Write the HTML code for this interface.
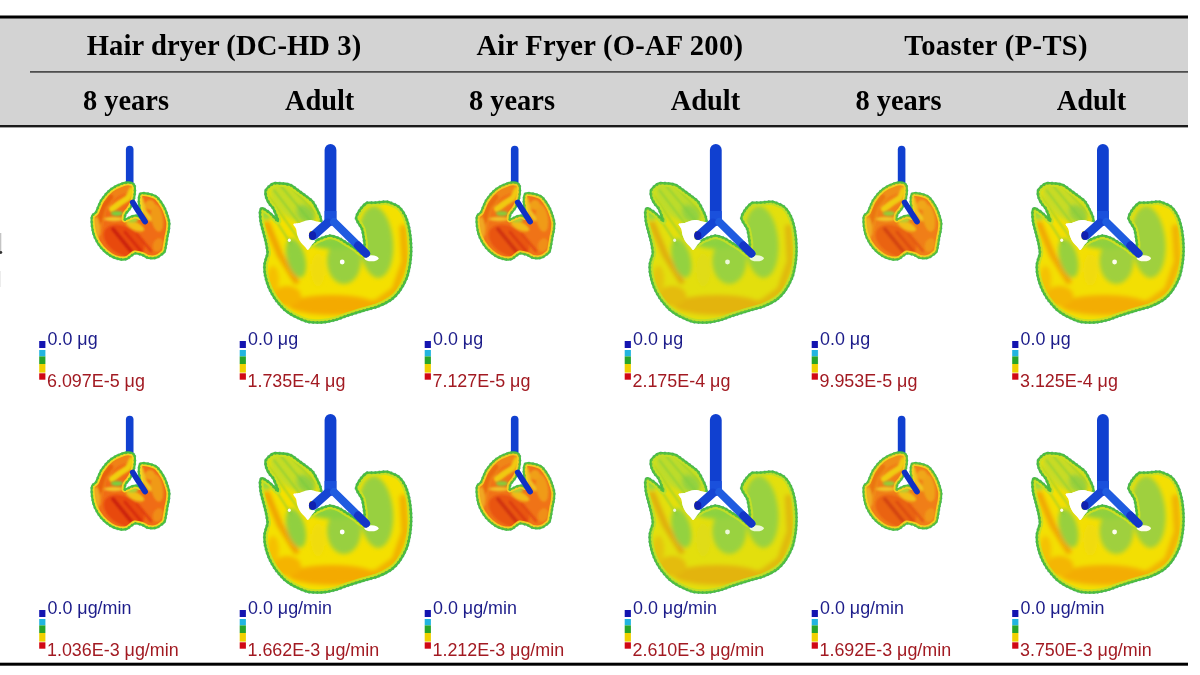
<!DOCTYPE html>
<html><head><meta charset="utf-8"><title>figure</title>
<style>
html,body{margin:0;padding:0;background:#fff;width:1200px;height:675px;overflow:hidden}
svg{position:absolute;left:0;top:0;display:block;will-change:transform}
</style></head><body>
<svg width="1200" height="675" viewBox="0 0 1200 675">
<defs>
<filter id="bl1" x="-30%" y="-30%" width="160%" height="160%"><feGaussianBlur stdDeviation="1.3"/></filter>
<filter id="bl2" x="-30%" y="-30%" width="160%" height="160%"><feGaussianBlur stdDeviation="2.3"/></filter>
<filter id="bl05" x="-10%" y="-10%" width="120%" height="120%"><feGaussianBlur stdDeviation="0.6"/></filter>
<filter id="bl08" x="-10%" y="-10%" width="120%" height="120%"><feGaussianBlur stdDeviation="1"/></filter>
<clipPath id="cclip"><path d="M4.9,39.8 C5.3,40.8 5.3,44.1 5.3,45.5 C5.3,46.9 4.8,50.5 4.5,52.0 C4.2,53.5 3.2,57.1 2.6,58.5 C2.0,59.9 -0.0,63.1 -0.8,64.2 C-1.6,65.3 -3.6,67.2 -4.1,68.3 C-4.6,69.4 -5.6,73.4 -4.9,73.7 C-4.2,74.0 0.3,71.3 1.6,70.8 C2.9,70.3 5.2,69.7 6.3,69.7 C7.4,69.7 10.4,71.9 10.8,71.2 C11.2,70.5 10.3,65.1 10.1,63.4 C9.9,61.7 9.2,58.2 9.1,56.7 C9.0,55.2 9.3,51.2 9.5,50.2 C9.7,49.1 10.3,48.0 10.9,47.7 C11.5,47.4 13.0,47.2 14.3,47.3 C15.6,47.4 20.4,48.3 22.0,48.8 C23.6,49.3 26.2,50.1 27.6,51.5 C29.0,52.9 33.1,58.8 34.3,60.9 C35.5,63.0 37.1,67.4 37.7,69.2 C38.3,71.0 39.4,74.9 39.6,76.6 C39.8,78.3 39.4,82.3 39.2,84.0 C39.0,85.7 38.1,89.5 37.7,91.4 C37.4,93.3 36.6,98.6 36.2,100.3 C35.9,102.0 35.7,104.9 34.7,106.2 C33.7,107.5 29.2,111.1 27.3,111.8 C25.4,112.5 20.1,112.5 18.4,112.2 C16.7,111.9 14.1,109.7 12.5,109.2 C10.9,108.7 6.8,107.3 5.1,107.7 C3.4,108.1 -0.6,112.2 -2.3,112.9 C-4.0,113.6 -7.8,113.9 -9.7,113.6 C-11.6,113.3 -16.8,111.5 -19.0,110.2 C-21.2,108.9 -26.5,104.4 -28.4,102.2 C-30.3,100.0 -33.9,94.0 -35.0,91.5 C-36.1,89.0 -37.4,83.4 -37.7,80.9 C-38.0,78.4 -38.2,71.9 -37.7,70.2 C-37.2,68.5 -34.8,68.1 -33.7,66.2 C-32.6,64.3 -30.1,56.8 -28.4,54.2 C-26.7,51.6 -21.5,45.4 -19.0,43.5 C-16.5,41.6 -9.4,38.3 -7.0,37.5 C-4.6,36.7 0.2,36.6 1.6,36.9 C3.0,37.2 4.5,38.8 4.9,39.8Z"/></clipPath>
<clipPath id="aclip"><path d="M-64.9,46.6 C-64.5,45.3 -62.1,42.9 -61.1,42.0 C-60.1,41.1 -57.6,39.5 -56.0,39.2 C-54.4,38.9 -49.6,39.3 -47.7,39.5 C-45.8,39.7 -41.8,40.1 -39.9,41.0 C-38.0,41.9 -32.9,45.9 -31.1,47.2 C-29.3,48.5 -26.0,50.9 -24.4,52.1 C-22.8,53.3 -19.0,56.1 -17.7,57.7 C-16.4,59.3 -14.2,63.6 -13.3,65.4 C-12.4,67.2 -10.3,71.6 -9.9,73.2 C-9.5,74.8 -9.0,77.3 -9.5,79.0 C-10.0,80.7 -13.3,85.9 -14.5,88.0 C-15.7,90.1 -18.7,95.4 -19.5,97.0 C-20.3,98.6 -21.9,101.9 -21.5,102.0 C-21.1,102.1 -17.8,98.9 -16.5,98.0 C-15.2,97.1 -11.9,95.2 -10.0,94.5 C-8.1,93.8 -2.7,91.6 -0.5,91.6 C1.7,91.6 7.2,93.6 9.2,94.5 C11.2,95.4 15.1,98.3 16.9,99.4 C18.7,100.5 22.8,103.0 24.6,104.2 C26.4,105.4 31.4,110.4 32.5,110.0 C33.6,109.6 33.9,102.8 34.0,101.0 C34.1,99.2 33.6,96.4 33.3,94.5 C33.0,92.6 32.3,87.3 31.4,84.9 C30.5,82.5 25.8,76.6 25.6,74.3 C25.4,72.0 28.3,67.4 29.5,65.6 C30.7,63.8 34.6,59.7 36.2,58.9 C37.8,58.1 40.6,58.8 43.0,58.7 C45.4,58.6 53.6,57.2 56.5,57.7 C59.4,58.2 65.9,60.9 68.1,62.6 C70.3,64.3 73.7,69.5 75.0,72.2 C76.3,74.9 78.3,82.1 79.0,85.7 C79.7,89.3 80.6,99.2 80.7,103.0 C80.8,106.8 80.3,114.8 79.8,118.4 C79.3,122.0 77.6,130.5 76.3,133.9 C75.0,137.3 70.9,144.7 69.0,147.3 C67.1,149.9 63.0,154.2 60.4,156.0 C57.8,157.8 50.0,161.6 46.9,162.8 C43.7,164.0 37.0,165.5 33.4,166.6 C29.8,167.7 19.4,170.9 16.1,172.0 C12.8,173.1 8.0,175.2 5.1,176.0 C2.2,176.8 -5.5,178.3 -8.7,178.5 C-11.9,178.7 -19.5,178.6 -22.6,177.9 C-25.7,177.2 -32.4,174.3 -35.2,172.8 C-38.0,171.3 -44.2,167.4 -46.5,165.3 C-48.8,163.2 -53.5,157.7 -55.3,155.2 C-57.1,152.7 -60.4,146.7 -61.6,143.9 C-62.8,141.1 -64.9,133.9 -65.4,131.3 C-65.9,128.7 -66.2,123.1 -66.1,121.2 C-66.0,119.3 -65.1,116.4 -64.7,115.0 C-64.3,113.6 -63.0,110.9 -63.0,109.0 C-63.0,107.1 -64.0,101.6 -64.5,99.0 C-65.0,96.4 -67.1,89.1 -67.7,86.6 C-68.3,84.1 -69.6,79.9 -69.9,77.7 C-70.2,75.5 -70.6,69.3 -70.5,67.7 C-70.4,66.1 -69.4,64.6 -68.8,64.3 C-68.2,64.0 -66.7,64.7 -65.5,65.4 C-64.3,66.1 -60.3,69.1 -58.8,70.5 C-57.3,71.9 -52.7,77.6 -52.5,77.0 C-52.3,76.4 -56.0,67.0 -57.0,65.0 C-58.0,63.0 -60.2,61.3 -61.1,59.9 C-62.0,58.5 -64.0,54.8 -64.4,53.2 C-64.8,51.6 -65.3,47.9 -64.9,46.6Z"/></clipPath>
<g id="child">
  <line x1="0" y1="3.8" x2="0" y2="42" stroke="#1040d0" stroke-width="7.6" stroke-linecap="round"/>
  <path d="M4.9,39.8 C5.3,40.8 5.3,44.1 5.3,45.5 C5.3,46.9 4.8,50.5 4.5,52.0 C4.2,53.5 3.2,57.1 2.6,58.5 C2.0,59.9 -0.0,63.1 -0.8,64.2 C-1.6,65.3 -3.6,67.2 -4.1,68.3 C-4.6,69.4 -5.6,73.4 -4.9,73.7 C-4.2,74.0 0.3,71.3 1.6,70.8 C2.9,70.3 5.2,69.7 6.3,69.7 C7.4,69.7 10.4,71.9 10.8,71.2 C11.2,70.5 10.3,65.1 10.1,63.4 C9.9,61.7 9.2,58.2 9.1,56.7 C9.0,55.2 9.3,51.2 9.5,50.2 C9.7,49.1 10.3,48.0 10.9,47.7 C11.5,47.4 13.0,47.2 14.3,47.3 C15.6,47.4 20.4,48.3 22.0,48.8 C23.6,49.3 26.2,50.1 27.6,51.5 C29.0,52.9 33.1,58.8 34.3,60.9 C35.5,63.0 37.1,67.4 37.7,69.2 C38.3,71.0 39.4,74.9 39.6,76.6 C39.8,78.3 39.4,82.3 39.2,84.0 C39.0,85.7 38.1,89.5 37.7,91.4 C37.4,93.3 36.6,98.6 36.2,100.3 C35.9,102.0 35.7,104.9 34.7,106.2 C33.7,107.5 29.2,111.1 27.3,111.8 C25.4,112.5 20.1,112.5 18.4,112.2 C16.7,111.9 14.1,109.7 12.5,109.2 C10.9,108.7 6.8,107.3 5.1,107.7 C3.4,108.1 -0.6,112.2 -2.3,112.9 C-4.0,113.6 -7.8,113.9 -9.7,113.6 C-11.6,113.3 -16.8,111.5 -19.0,110.2 C-21.2,108.9 -26.5,104.4 -28.4,102.2 C-30.3,100.0 -33.9,94.0 -35.0,91.5 C-36.1,89.0 -37.4,83.4 -37.7,80.9 C-38.0,78.4 -38.2,71.9 -37.7,70.2 C-37.2,68.5 -34.8,68.1 -33.7,66.2 C-32.6,64.3 -30.1,56.8 -28.4,54.2 C-26.7,51.6 -21.5,45.4 -19.0,43.5 C-16.5,41.6 -9.4,38.3 -7.0,37.5 C-4.6,36.7 0.2,36.6 1.6,36.9 C3.0,37.2 4.5,38.8 4.9,39.8Z" fill="#f06c16"/>
  <g clip-path="url(#cclip)">
    <g filter="url(#bl1)"><ellipse cx="-5.7" cy="95.2" rx="22" ry="14" fill="#e84a10" transform="rotate(30 -5.7 95.2)"/>
<path d="M-32.7,86.2 L-27.7,61.2 L-15.7,47.2 L-1.7,41.2" fill="none" stroke="#f08218" stroke-width="9" stroke-linecap="round" stroke-linejoin="round"/>
<path d="M-30.7,76.2 L-26.7,61.2 L-18.7,51.2" fill="none" stroke="#e86010" stroke-width="5" stroke-linecap="round" stroke-linejoin="round"/>
<path d="M-17.7,63.2 L-9.7,57.2 L-1.7,52.2 L2.3,44.2" fill="none" stroke="#f0d010" stroke-width="6" stroke-linecap="round" stroke-linejoin="round"/>
<ellipse cx="-15.7" cy="73.2" rx="10" ry="2.2" fill="#f0c428"/>
<ellipse cx="-33.7" cy="83.2" rx="4" ry="12" fill="#f0a820"/>
<path d="M-16.7,83.2 L1.3,105.2" fill="none" stroke="#cc2010" stroke-width="4" stroke-linecap="round" stroke-linejoin="round"/>
<path d="M-4.7,86.2 L11.3,105.2" fill="none" stroke="#d82c10" stroke-width="3" stroke-linecap="round" stroke-linejoin="round"/>
<path d="M7.3,88.2 L21.3,105.2" fill="none" stroke="#e03a10" stroke-width="2.5" stroke-linecap="round" stroke-linejoin="round"/>
<path d="M11.3,53.2 L14.3,65.2 L20.3,73.2" fill="none" stroke="#f0c820" stroke-width="4.5" stroke-linecap="round" stroke-linejoin="round"/>
<ellipse cx="27.3" cy="72.2" rx="6" ry="14" fill="#f09a18" transform="rotate(-10 27.3 72.2)"/>
<ellipse cx="20.3" cy="59.2" rx="5" ry="5" fill="#f0a018"/>
<ellipse cx="5.3" cy="80.2" rx="10" ry="4" fill="#f0c018" transform="rotate(25 5.3 80.2)"/>
<ellipse cx="28.3" cy="99.2" rx="5" ry="7" fill="#f08c18" transform="rotate(20 28.3 99.2)"/></g>
    <g filter="url(#bl08)"><ellipse cx="-12.7" cy="67.7" rx="6" ry="2.6" fill="#78d040"/>
<ellipse cx="2.3" cy="74.2" rx="6" ry="2.5" fill="#a8d838"/></g>
    <path d="M4.9,39.8 C5.3,40.8 5.3,44.1 5.3,45.5 C5.3,46.9 4.8,50.5 4.5,52.0 C4.2,53.5 3.2,57.1 2.6,58.5 C2.0,59.9 -0.0,63.1 -0.8,64.2 C-1.6,65.3 -3.6,67.2 -4.1,68.3 C-4.6,69.4 -5.6,73.4 -4.9,73.7 C-4.2,74.0 0.3,71.3 1.6,70.8 C2.9,70.3 5.2,69.7 6.3,69.7 C7.4,69.7 10.4,71.9 10.8,71.2 C11.2,70.5 10.3,65.1 10.1,63.4 C9.9,61.7 9.2,58.2 9.1,56.7 C9.0,55.2 9.3,51.2 9.5,50.2 C9.7,49.1 10.3,48.0 10.9,47.7 C11.5,47.4 13.0,47.2 14.3,47.3 C15.6,47.4 20.4,48.3 22.0,48.8 C23.6,49.3 26.2,50.1 27.6,51.5 C29.0,52.9 33.1,58.8 34.3,60.9 C35.5,63.0 37.1,67.4 37.7,69.2 C38.3,71.0 39.4,74.9 39.6,76.6 C39.8,78.3 39.4,82.3 39.2,84.0 C39.0,85.7 38.1,89.5 37.7,91.4 C37.4,93.3 36.6,98.6 36.2,100.3 C35.9,102.0 35.7,104.9 34.7,106.2 C33.7,107.5 29.2,111.1 27.3,111.8 C25.4,112.5 20.1,112.5 18.4,112.2 C16.7,111.9 14.1,109.7 12.5,109.2 C10.9,108.7 6.8,107.3 5.1,107.7 C3.4,108.1 -0.6,112.2 -2.3,112.9 C-4.0,113.6 -7.8,113.9 -9.7,113.6 C-11.6,113.3 -16.8,111.5 -19.0,110.2 C-21.2,108.9 -26.5,104.4 -28.4,102.2 C-30.3,100.0 -33.9,94.0 -35.0,91.5 C-36.1,89.0 -37.4,83.4 -37.7,80.9 C-38.0,78.4 -38.2,71.9 -37.7,70.2 C-37.2,68.5 -34.8,68.1 -33.7,66.2 C-32.6,64.3 -30.1,56.8 -28.4,54.2 C-26.7,51.6 -21.5,45.4 -19.0,43.5 C-16.5,41.6 -9.4,38.3 -7.0,37.5 C-4.6,36.7 0.2,36.6 1.6,36.9 C3.0,37.2 4.5,38.8 4.9,39.8Z" fill="none" stroke="#f0d820" stroke-width="6" filter="url(#bl05)"/>
  </g>
  <path d="M4.9,39.8 C5.3,40.8 5.3,44.1 5.3,45.5 C5.3,46.9 4.8,50.5 4.5,52.0 C4.2,53.5 3.2,57.1 2.6,58.5 C2.0,59.9 -0.0,63.1 -0.8,64.2 C-1.6,65.3 -3.6,67.2 -4.1,68.3 C-4.6,69.4 -5.6,73.4 -4.9,73.7 C-4.2,74.0 0.3,71.3 1.6,70.8 C2.9,70.3 5.2,69.7 6.3,69.7 C7.4,69.7 10.4,71.9 10.8,71.2 C11.2,70.5 10.3,65.1 10.1,63.4 C9.9,61.7 9.2,58.2 9.1,56.7 C9.0,55.2 9.3,51.2 9.5,50.2 C9.7,49.1 10.3,48.0 10.9,47.7 C11.5,47.4 13.0,47.2 14.3,47.3 C15.6,47.4 20.4,48.3 22.0,48.8 C23.6,49.3 26.2,50.1 27.6,51.5 C29.0,52.9 33.1,58.8 34.3,60.9 C35.5,63.0 37.1,67.4 37.7,69.2 C38.3,71.0 39.4,74.9 39.6,76.6 C39.8,78.3 39.4,82.3 39.2,84.0 C39.0,85.7 38.1,89.5 37.7,91.4 C37.4,93.3 36.6,98.6 36.2,100.3 C35.9,102.0 35.7,104.9 34.7,106.2 C33.7,107.5 29.2,111.1 27.3,111.8 C25.4,112.5 20.1,112.5 18.4,112.2 C16.7,111.9 14.1,109.7 12.5,109.2 C10.9,108.7 6.8,107.3 5.1,107.7 C3.4,108.1 -0.6,112.2 -2.3,112.9 C-4.0,113.6 -7.8,113.9 -9.7,113.6 C-11.6,113.3 -16.8,111.5 -19.0,110.2 C-21.2,108.9 -26.5,104.4 -28.4,102.2 C-30.3,100.0 -33.9,94.0 -35.0,91.5 C-36.1,89.0 -37.4,83.4 -37.7,80.9 C-38.0,78.4 -38.2,71.9 -37.7,70.2 C-37.2,68.5 -34.8,68.1 -33.7,66.2 C-32.6,64.3 -30.1,56.8 -28.4,54.2 C-26.7,51.6 -21.5,45.4 -19.0,43.5 C-16.5,41.6 -9.4,38.3 -7.0,37.5 C-4.6,36.7 0.2,36.6 1.6,36.9 C3.0,37.2 4.5,38.8 4.9,39.8Z" fill="none" stroke="#1a6e70" stroke-width="2.8" stroke-dasharray="1.5 2.5" opacity="0.55"/>
  <path d="M4.9,39.8 C5.3,40.8 5.3,44.1 5.3,45.5 C5.3,46.9 4.8,50.5 4.5,52.0 C4.2,53.5 3.2,57.1 2.6,58.5 C2.0,59.9 -0.0,63.1 -0.8,64.2 C-1.6,65.3 -3.6,67.2 -4.1,68.3 C-4.6,69.4 -5.6,73.4 -4.9,73.7 C-4.2,74.0 0.3,71.3 1.6,70.8 C2.9,70.3 5.2,69.7 6.3,69.7 C7.4,69.7 10.4,71.9 10.8,71.2 C11.2,70.5 10.3,65.1 10.1,63.4 C9.9,61.7 9.2,58.2 9.1,56.7 C9.0,55.2 9.3,51.2 9.5,50.2 C9.7,49.1 10.3,48.0 10.9,47.7 C11.5,47.4 13.0,47.2 14.3,47.3 C15.6,47.4 20.4,48.3 22.0,48.8 C23.6,49.3 26.2,50.1 27.6,51.5 C29.0,52.9 33.1,58.8 34.3,60.9 C35.5,63.0 37.1,67.4 37.7,69.2 C38.3,71.0 39.4,74.9 39.6,76.6 C39.8,78.3 39.4,82.3 39.2,84.0 C39.0,85.7 38.1,89.5 37.7,91.4 C37.4,93.3 36.6,98.6 36.2,100.3 C35.9,102.0 35.7,104.9 34.7,106.2 C33.7,107.5 29.2,111.1 27.3,111.8 C25.4,112.5 20.1,112.5 18.4,112.2 C16.7,111.9 14.1,109.7 12.5,109.2 C10.9,108.7 6.8,107.3 5.1,107.7 C3.4,108.1 -0.6,112.2 -2.3,112.9 C-4.0,113.6 -7.8,113.9 -9.7,113.6 C-11.6,113.3 -16.8,111.5 -19.0,110.2 C-21.2,108.9 -26.5,104.4 -28.4,102.2 C-30.3,100.0 -33.9,94.0 -35.0,91.5 C-36.1,89.0 -37.4,83.4 -37.7,80.9 C-38.0,78.4 -38.2,71.9 -37.7,70.2 C-37.2,68.5 -34.8,68.1 -33.7,66.2 C-32.6,64.3 -30.1,56.8 -28.4,54.2 C-26.7,51.6 -21.5,45.4 -19.0,43.5 C-16.5,41.6 -9.4,38.3 -7.0,37.5 C-4.6,36.7 0.2,36.6 1.6,36.9 C3.0,37.2 4.5,38.8 4.9,39.8Z" fill="none" stroke="#48c040" stroke-width="2.1"/>
</g>
<g id="child_air">
  <path d="M3.1,56.7 L15.3,75.7" fill="none" stroke="#1030c4" stroke-width="5.8" stroke-linecap="round" stroke-linejoin="round"/>
</g>
<g id="adult">
  <path d="M-64.9,46.6 C-64.5,45.3 -62.1,42.9 -61.1,42.0 C-60.1,41.1 -57.6,39.5 -56.0,39.2 C-54.4,38.9 -49.6,39.3 -47.7,39.5 C-45.8,39.7 -41.8,40.1 -39.9,41.0 C-38.0,41.9 -32.9,45.9 -31.1,47.2 C-29.3,48.5 -26.0,50.9 -24.4,52.1 C-22.8,53.3 -19.0,56.1 -17.7,57.7 C-16.4,59.3 -14.2,63.6 -13.3,65.4 C-12.4,67.2 -10.3,71.6 -9.9,73.2 C-9.5,74.8 -9.0,77.3 -9.5,79.0 C-10.0,80.7 -13.3,85.9 -14.5,88.0 C-15.7,90.1 -18.7,95.4 -19.5,97.0 C-20.3,98.6 -21.9,101.9 -21.5,102.0 C-21.1,102.1 -17.8,98.9 -16.5,98.0 C-15.2,97.1 -11.9,95.2 -10.0,94.5 C-8.1,93.8 -2.7,91.6 -0.5,91.6 C1.7,91.6 7.2,93.6 9.2,94.5 C11.2,95.4 15.1,98.3 16.9,99.4 C18.7,100.5 22.8,103.0 24.6,104.2 C26.4,105.4 31.4,110.4 32.5,110.0 C33.6,109.6 33.9,102.8 34.0,101.0 C34.1,99.2 33.6,96.4 33.3,94.5 C33.0,92.6 32.3,87.3 31.4,84.9 C30.5,82.5 25.8,76.6 25.6,74.3 C25.4,72.0 28.3,67.4 29.5,65.6 C30.7,63.8 34.6,59.7 36.2,58.9 C37.8,58.1 40.6,58.8 43.0,58.7 C45.4,58.6 53.6,57.2 56.5,57.7 C59.4,58.2 65.9,60.9 68.1,62.6 C70.3,64.3 73.7,69.5 75.0,72.2 C76.3,74.9 78.3,82.1 79.0,85.7 C79.7,89.3 80.6,99.2 80.7,103.0 C80.8,106.8 80.3,114.8 79.8,118.4 C79.3,122.0 77.6,130.5 76.3,133.9 C75.0,137.3 70.9,144.7 69.0,147.3 C67.1,149.9 63.0,154.2 60.4,156.0 C57.8,157.8 50.0,161.6 46.9,162.8 C43.7,164.0 37.0,165.5 33.4,166.6 C29.8,167.7 19.4,170.9 16.1,172.0 C12.8,173.1 8.0,175.2 5.1,176.0 C2.2,176.8 -5.5,178.3 -8.7,178.5 C-11.9,178.7 -19.5,178.6 -22.6,177.9 C-25.7,177.2 -32.4,174.3 -35.2,172.8 C-38.0,171.3 -44.2,167.4 -46.5,165.3 C-48.8,163.2 -53.5,157.7 -55.3,155.2 C-57.1,152.7 -60.4,146.7 -61.6,143.9 C-62.8,141.1 -64.9,133.9 -65.4,131.3 C-65.9,128.7 -66.2,123.1 -66.1,121.2 C-66.0,119.3 -65.1,116.4 -64.7,115.0 C-64.3,113.6 -63.0,110.9 -63.0,109.0 C-63.0,107.1 -64.0,101.6 -64.5,99.0 C-65.0,96.4 -67.1,89.1 -67.7,86.6 C-68.3,84.1 -69.6,79.9 -69.9,77.7 C-70.2,75.5 -70.6,69.3 -70.5,67.7 C-70.4,66.1 -69.4,64.6 -68.8,64.3 C-68.2,64.0 -66.7,64.7 -65.5,65.4 C-64.3,66.1 -60.3,69.1 -58.8,70.5 C-57.3,71.9 -52.7,77.6 -52.5,77.0 C-52.3,76.4 -56.0,67.0 -57.0,65.0 C-58.0,63.0 -60.2,61.3 -61.1,59.9 C-62.0,58.5 -64.0,54.8 -64.4,53.2 C-64.8,51.6 -65.3,47.9 -64.9,46.6Z" fill="#f4e000"/>
  <g clip-path="url(#aclip)">
    <g filter="url(#bl2)"><ellipse cx="-40.5" cy="59.0" rx="25" ry="13" fill="#c4dc28" transform="rotate(42 -40.5 59.0)"/>
<ellipse cx="-24.5" cy="70.0" rx="11" ry="8" fill="#90d040" transform="rotate(45 -24.5 70.0)"/>
<ellipse cx="-64.5" cy="70.0" rx="6" ry="6" fill="#98d840"/>
<path d="M-63.5,80.0 L-50.5,111.0 L-34.5,137.0" fill="none" stroke="#f0a000" stroke-width="6" stroke-linecap="round" stroke-linejoin="round"/>
<ellipse cx="-34.5" cy="114.0" rx="9" ry="20" fill="#90d040" transform="rotate(-15 -34.5 114.0)"/>
<ellipse cx="13.5" cy="117.0" rx="17" ry="23" fill="#98d040"/>
<ellipse cx="-12.5" cy="126.0" rx="7" ry="16" fill="#f0dc10"/>
<ellipse cx="2.5" cy="99.0" rx="22" ry="6" fill="#88d040"/>
<ellipse cx="45.5" cy="98.0" rx="17" ry="36" fill="#98d040" transform="rotate(-5 45.5 98.0)"/>
<path d="M72.5,84.0 L74.5,118.0 L64.5,146.0 L47.5,158.0 L27.5,165.0" fill="none" stroke="#f0b000" stroke-width="7" stroke-linecap="round" stroke-linejoin="round"/>
<ellipse cx="1.5" cy="161.0" rx="44" ry="10" fill="#f4aa00"/>
<ellipse cx="-43.5" cy="152.0" rx="14" ry="10" fill="#f5b400"/>
<ellipse cx="-57.5" cy="136.0" rx="6" ry="14" fill="#f5c000"/></g>
    <g filter="url(#bl08)"><path d="M-62.5,52.0 L-32.5,94.0" fill="none" stroke="#70c840" stroke-width="1.4" stroke-linecap="round" stroke-linejoin="round" opacity="0.7"/>
<path d="M-56.5,46.0 L-24.5,88.0" fill="none" stroke="#70c840" stroke-width="1.4" stroke-linecap="round" stroke-linejoin="round" opacity="0.7"/>
<path d="M-49.5,42.0 L-17.5,80.0" fill="none" stroke="#70c840" stroke-width="1.4" stroke-linecap="round" stroke-linejoin="round" opacity="0.7"/>
<path d="M-40.5,42.0 L-12.5,71.0" fill="none" stroke="#70c840" stroke-width="1.4" stroke-linecap="round" stroke-linejoin="round" opacity="0.7"/>
<path d="M-64.5,61.0 L-39.5,100.0" fill="none" stroke="#70c840" stroke-width="1.4" stroke-linecap="round" stroke-linejoin="round" opacity="0.7"/></g>
    <path d="M-64.9,46.6 C-64.5,45.3 -62.1,42.9 -61.1,42.0 C-60.1,41.1 -57.6,39.5 -56.0,39.2 C-54.4,38.9 -49.6,39.3 -47.7,39.5 C-45.8,39.7 -41.8,40.1 -39.9,41.0 C-38.0,41.9 -32.9,45.9 -31.1,47.2 C-29.3,48.5 -26.0,50.9 -24.4,52.1 C-22.8,53.3 -19.0,56.1 -17.7,57.7 C-16.4,59.3 -14.2,63.6 -13.3,65.4 C-12.4,67.2 -10.3,71.6 -9.9,73.2 C-9.5,74.8 -9.0,77.3 -9.5,79.0 C-10.0,80.7 -13.3,85.9 -14.5,88.0 C-15.7,90.1 -18.7,95.4 -19.5,97.0 C-20.3,98.6 -21.9,101.9 -21.5,102.0 C-21.1,102.1 -17.8,98.9 -16.5,98.0 C-15.2,97.1 -11.9,95.2 -10.0,94.5 C-8.1,93.8 -2.7,91.6 -0.5,91.6 C1.7,91.6 7.2,93.6 9.2,94.5 C11.2,95.4 15.1,98.3 16.9,99.4 C18.7,100.5 22.8,103.0 24.6,104.2 C26.4,105.4 31.4,110.4 32.5,110.0 C33.6,109.6 33.9,102.8 34.0,101.0 C34.1,99.2 33.6,96.4 33.3,94.5 C33.0,92.6 32.3,87.3 31.4,84.9 C30.5,82.5 25.8,76.6 25.6,74.3 C25.4,72.0 28.3,67.4 29.5,65.6 C30.7,63.8 34.6,59.7 36.2,58.9 C37.8,58.1 40.6,58.8 43.0,58.7 C45.4,58.6 53.6,57.2 56.5,57.7 C59.4,58.2 65.9,60.9 68.1,62.6 C70.3,64.3 73.7,69.5 75.0,72.2 C76.3,74.9 78.3,82.1 79.0,85.7 C79.7,89.3 80.6,99.2 80.7,103.0 C80.8,106.8 80.3,114.8 79.8,118.4 C79.3,122.0 77.6,130.5 76.3,133.9 C75.0,137.3 70.9,144.7 69.0,147.3 C67.1,149.9 63.0,154.2 60.4,156.0 C57.8,157.8 50.0,161.6 46.9,162.8 C43.7,164.0 37.0,165.5 33.4,166.6 C29.8,167.7 19.4,170.9 16.1,172.0 C12.8,173.1 8.0,175.2 5.1,176.0 C2.2,176.8 -5.5,178.3 -8.7,178.5 C-11.9,178.7 -19.5,178.6 -22.6,177.9 C-25.7,177.2 -32.4,174.3 -35.2,172.8 C-38.0,171.3 -44.2,167.4 -46.5,165.3 C-48.8,163.2 -53.5,157.7 -55.3,155.2 C-57.1,152.7 -60.4,146.7 -61.6,143.9 C-62.8,141.1 -64.9,133.9 -65.4,131.3 C-65.9,128.7 -66.2,123.1 -66.1,121.2 C-66.0,119.3 -65.1,116.4 -64.7,115.0 C-64.3,113.6 -63.0,110.9 -63.0,109.0 C-63.0,107.1 -64.0,101.6 -64.5,99.0 C-65.0,96.4 -67.1,89.1 -67.7,86.6 C-68.3,84.1 -69.6,79.9 -69.9,77.7 C-70.2,75.5 -70.6,69.3 -70.5,67.7 C-70.4,66.1 -69.4,64.6 -68.8,64.3 C-68.2,64.0 -66.7,64.7 -65.5,65.4 C-64.3,66.1 -60.3,69.1 -58.8,70.5 C-57.3,71.9 -52.7,77.6 -52.5,77.0 C-52.3,76.4 -56.0,67.0 -57.0,65.0 C-58.0,63.0 -60.2,61.3 -61.1,59.9 C-62.0,58.5 -64.0,54.8 -64.4,53.2 C-64.8,51.6 -65.3,47.9 -64.9,46.6Z" fill="none" stroke="#c8e020" stroke-width="7" filter="url(#bl05)"/>
  </g>
  <path d="M-64.9,46.6 C-64.5,45.3 -62.1,42.9 -61.1,42.0 C-60.1,41.1 -57.6,39.5 -56.0,39.2 C-54.4,38.9 -49.6,39.3 -47.7,39.5 C-45.8,39.7 -41.8,40.1 -39.9,41.0 C-38.0,41.9 -32.9,45.9 -31.1,47.2 C-29.3,48.5 -26.0,50.9 -24.4,52.1 C-22.8,53.3 -19.0,56.1 -17.7,57.7 C-16.4,59.3 -14.2,63.6 -13.3,65.4 C-12.4,67.2 -10.3,71.6 -9.9,73.2 C-9.5,74.8 -9.0,77.3 -9.5,79.0 C-10.0,80.7 -13.3,85.9 -14.5,88.0 C-15.7,90.1 -18.7,95.4 -19.5,97.0 C-20.3,98.6 -21.9,101.9 -21.5,102.0 C-21.1,102.1 -17.8,98.9 -16.5,98.0 C-15.2,97.1 -11.9,95.2 -10.0,94.5 C-8.1,93.8 -2.7,91.6 -0.5,91.6 C1.7,91.6 7.2,93.6 9.2,94.5 C11.2,95.4 15.1,98.3 16.9,99.4 C18.7,100.5 22.8,103.0 24.6,104.2 C26.4,105.4 31.4,110.4 32.5,110.0 C33.6,109.6 33.9,102.8 34.0,101.0 C34.1,99.2 33.6,96.4 33.3,94.5 C33.0,92.6 32.3,87.3 31.4,84.9 C30.5,82.5 25.8,76.6 25.6,74.3 C25.4,72.0 28.3,67.4 29.5,65.6 C30.7,63.8 34.6,59.7 36.2,58.9 C37.8,58.1 40.6,58.8 43.0,58.7 C45.4,58.6 53.6,57.2 56.5,57.7 C59.4,58.2 65.9,60.9 68.1,62.6 C70.3,64.3 73.7,69.5 75.0,72.2 C76.3,74.9 78.3,82.1 79.0,85.7 C79.7,89.3 80.6,99.2 80.7,103.0 C80.8,106.8 80.3,114.8 79.8,118.4 C79.3,122.0 77.6,130.5 76.3,133.9 C75.0,137.3 70.9,144.7 69.0,147.3 C67.1,149.9 63.0,154.2 60.4,156.0 C57.8,157.8 50.0,161.6 46.9,162.8 C43.7,164.0 37.0,165.5 33.4,166.6 C29.8,167.7 19.4,170.9 16.1,172.0 C12.8,173.1 8.0,175.2 5.1,176.0 C2.2,176.8 -5.5,178.3 -8.7,178.5 C-11.9,178.7 -19.5,178.6 -22.6,177.9 C-25.7,177.2 -32.4,174.3 -35.2,172.8 C-38.0,171.3 -44.2,167.4 -46.5,165.3 C-48.8,163.2 -53.5,157.7 -55.3,155.2 C-57.1,152.7 -60.4,146.7 -61.6,143.9 C-62.8,141.1 -64.9,133.9 -65.4,131.3 C-65.9,128.7 -66.2,123.1 -66.1,121.2 C-66.0,119.3 -65.1,116.4 -64.7,115.0 C-64.3,113.6 -63.0,110.9 -63.0,109.0 C-63.0,107.1 -64.0,101.6 -64.5,99.0 C-65.0,96.4 -67.1,89.1 -67.7,86.6 C-68.3,84.1 -69.6,79.9 -69.9,77.7 C-70.2,75.5 -70.6,69.3 -70.5,67.7 C-70.4,66.1 -69.4,64.6 -68.8,64.3 C-68.2,64.0 -66.7,64.7 -65.5,65.4 C-64.3,66.1 -60.3,69.1 -58.8,70.5 C-57.3,71.9 -52.7,77.6 -52.5,77.0 C-52.3,76.4 -56.0,67.0 -57.0,65.0 C-58.0,63.0 -60.2,61.3 -61.1,59.9 C-62.0,58.5 -64.0,54.8 -64.4,53.2 C-64.8,51.6 -65.3,47.9 -64.9,46.6Z" fill="none" stroke="#1a6e70" stroke-width="3" stroke-dasharray="1.6 2.4" opacity="0.6"/>
  <path d="M-64.9,46.6 C-64.5,45.3 -62.1,42.9 -61.1,42.0 C-60.1,41.1 -57.6,39.5 -56.0,39.2 C-54.4,38.9 -49.6,39.3 -47.7,39.5 C-45.8,39.7 -41.8,40.1 -39.9,41.0 C-38.0,41.9 -32.9,45.9 -31.1,47.2 C-29.3,48.5 -26.0,50.9 -24.4,52.1 C-22.8,53.3 -19.0,56.1 -17.7,57.7 C-16.4,59.3 -14.2,63.6 -13.3,65.4 C-12.4,67.2 -10.3,71.6 -9.9,73.2 C-9.5,74.8 -9.0,77.3 -9.5,79.0 C-10.0,80.7 -13.3,85.9 -14.5,88.0 C-15.7,90.1 -18.7,95.4 -19.5,97.0 C-20.3,98.6 -21.9,101.9 -21.5,102.0 C-21.1,102.1 -17.8,98.9 -16.5,98.0 C-15.2,97.1 -11.9,95.2 -10.0,94.5 C-8.1,93.8 -2.7,91.6 -0.5,91.6 C1.7,91.6 7.2,93.6 9.2,94.5 C11.2,95.4 15.1,98.3 16.9,99.4 C18.7,100.5 22.8,103.0 24.6,104.2 C26.4,105.4 31.4,110.4 32.5,110.0 C33.6,109.6 33.9,102.8 34.0,101.0 C34.1,99.2 33.6,96.4 33.3,94.5 C33.0,92.6 32.3,87.3 31.4,84.9 C30.5,82.5 25.8,76.6 25.6,74.3 C25.4,72.0 28.3,67.4 29.5,65.6 C30.7,63.8 34.6,59.7 36.2,58.9 C37.8,58.1 40.6,58.8 43.0,58.7 C45.4,58.6 53.6,57.2 56.5,57.7 C59.4,58.2 65.9,60.9 68.1,62.6 C70.3,64.3 73.7,69.5 75.0,72.2 C76.3,74.9 78.3,82.1 79.0,85.7 C79.7,89.3 80.6,99.2 80.7,103.0 C80.8,106.8 80.3,114.8 79.8,118.4 C79.3,122.0 77.6,130.5 76.3,133.9 C75.0,137.3 70.9,144.7 69.0,147.3 C67.1,149.9 63.0,154.2 60.4,156.0 C57.8,157.8 50.0,161.6 46.9,162.8 C43.7,164.0 37.0,165.5 33.4,166.6 C29.8,167.7 19.4,170.9 16.1,172.0 C12.8,173.1 8.0,175.2 5.1,176.0 C2.2,176.8 -5.5,178.3 -8.7,178.5 C-11.9,178.7 -19.5,178.6 -22.6,177.9 C-25.7,177.2 -32.4,174.3 -35.2,172.8 C-38.0,171.3 -44.2,167.4 -46.5,165.3 C-48.8,163.2 -53.5,157.7 -55.3,155.2 C-57.1,152.7 -60.4,146.7 -61.6,143.9 C-62.8,141.1 -64.9,133.9 -65.4,131.3 C-65.9,128.7 -66.2,123.1 -66.1,121.2 C-66.0,119.3 -65.1,116.4 -64.7,115.0 C-64.3,113.6 -63.0,110.9 -63.0,109.0 C-63.0,107.1 -64.0,101.6 -64.5,99.0 C-65.0,96.4 -67.1,89.1 -67.7,86.6 C-68.3,84.1 -69.6,79.9 -69.9,77.7 C-70.2,75.5 -70.6,69.3 -70.5,67.7 C-70.4,66.1 -69.4,64.6 -68.8,64.3 C-68.2,64.0 -66.7,64.7 -65.5,65.4 C-64.3,66.1 -60.3,69.1 -58.8,70.5 C-57.3,71.9 -52.7,77.6 -52.5,77.0 C-52.3,76.4 -56.0,67.0 -57.0,65.0 C-58.0,63.0 -60.2,61.3 -61.1,59.9 C-62.0,58.5 -64.0,54.8 -64.4,53.2 C-64.8,51.6 -65.3,47.9 -64.9,46.6Z" fill="none" stroke="#48bc40" stroke-width="2.3"/>
  <path d="M-37.2,80.0 C-36.7,79.3 -31.9,79.1 -30.5,78.7 C-29.1,78.3 -26.5,77.0 -25.2,76.7 C-23.9,76.4 -20.4,75.9 -19.2,76.0 C-18.0,76.1 -15.7,77.0 -14.5,77.3 C-13.3,77.7 -9.2,78.1 -8.5,79.0 C-7.8,79.9 -7.8,84.0 -8.5,85.0 C-9.2,86.0 -13.1,87.7 -14.5,88.0 C-15.9,88.3 -19.7,86.4 -20.5,87.3 C-21.3,88.2 -21.8,94.2 -21.2,95.3 C-20.6,96.4 -15.5,96.1 -15.2,96.7 C-14.9,97.3 -17.6,99.6 -18.5,100.7 C-19.4,101.8 -21.7,105.7 -22.5,106.0 C-23.3,106.3 -24.3,104.3 -25.2,103.3 C-26.1,102.3 -29.6,98.7 -30.5,97.3 C-31.4,95.9 -32.7,92.8 -33.2,91.3 C-33.7,89.8 -34.0,86.0 -34.5,84.7 C-35.0,83.4 -37.7,80.7 -37.2,80.0Z" fill="#fff"/>
  <ellipse cx="41.0" cy="114.3" rx="7" ry="3" fill="#fff"/>
  <ellipse cx="11.7" cy="118.0" rx="2.4" ry="2.4" fill="#fff"/>
  <ellipse cx="-41.2" cy="96.3" rx="1.5" ry="1.8" fill="#fff"/>
</g>
<g id="adult_air">
  <line x1="0" y1="6" x2="0" y2="76" stroke="#1040d0" stroke-width="11.8" stroke-linecap="round"/>
  <path d="M0.0,67.0 L0.0,77.0" fill="none" stroke="#1a50dc" stroke-width="11.8" stroke-linecap="butt" stroke-linejoin="round"/>
  <path d="M-3.0,79.0 L-17.0,91.5" fill="none" stroke="#1646d4" stroke-width="9" stroke-linecap="round" stroke-linejoin="round"/>
  <path d="M3.5,78.0 L35.5,109.5" fill="none" stroke="#1f5ce0" stroke-width="8" stroke-linecap="round" stroke-linejoin="round"/>
  <path d="M27.5,101.5 L35.5,109.5" fill="none" stroke="#1436c8" stroke-width="8" stroke-linecap="round" stroke-linejoin="round"/>
  <ellipse cx="-18.0" cy="91.5" rx="3.6" ry="4.2" fill="#1020b0"/>
  
</g>
<g id="legbar">
  <rect x="-0.3" y="0" width="6.2" height="7" fill="#1414b0"/>
  <rect x="-0.3" y="9" width="6.2" height="6.4" fill="#22b4e0"/>
  <rect x="-0.3" y="15.4" width="6.2" height="7.6" fill="#28a428"/>
  <rect x="-0.3" y="23" width="6.2" height="8.6" fill="#f0d000"/>
  <rect x="-0.3" y="32.3" width="6.2" height="6.4" fill="#d00814"/>
</g>
</defs>
<rect x="0" y="17" width="1188" height="109" fill="#d3d3d3"/>
<rect x="0" y="15.5" width="1188" height="3" fill="#000"/>
<rect x="30" y="71.1" width="1158" height="1.6" fill="#404040"/>
<rect x="0" y="125" width="1188" height="2.4" fill="#1a1a1a"/>
<rect x="0" y="662.7" width="1188" height="3" fill="#000"/>
<rect x="0" y="233" width="1.3" height="19" fill="#c4c4c4"/><rect x="0" y="271" width="1" height="16" fill="#ececec"/><ellipse cx="0.5" cy="252.5" rx="1.8" ry="1.4" fill="#333"/>
<text x="224.04" y="54.5" text-anchor="middle" style="font-family:'Liberation Serif',serif;font-weight:bold;font-size:28.6px;letter-spacing:0.08px" fill="#000">Hair dryer (DC-HD 3)</text>
<text x="609.8100000000001" y="54.5" text-anchor="middle" style="font-family:'Liberation Serif',serif;font-weight:bold;font-size:28.6px;letter-spacing:0.22px" fill="#000">Air Fryer (O-AF 200)</text>
<text x="996.175" y="54.5" text-anchor="middle" style="font-family:'Liberation Serif',serif;font-weight:bold;font-size:28.6px;letter-spacing:0.35px" fill="#000">Toaster (P-TS)</text>
<text x="126" y="109.5" text-anchor="middle" style="font-family:'Liberation Serif',serif;font-weight:bold;font-size:28.4px" fill="#000">8 years</text>
<text x="319.6" y="109.5" text-anchor="middle" style="font-family:'Liberation Serif',serif;font-weight:bold;font-size:28.4px" fill="#000">Adult</text>
<text x="512" y="109.5" text-anchor="middle" style="font-family:'Liberation Serif',serif;font-weight:bold;font-size:28.4px" fill="#000">8 years</text>
<text x="705.5" y="109.5" text-anchor="middle" style="font-family:'Liberation Serif',serif;font-weight:bold;font-size:28.4px" fill="#000">Adult</text>
<text x="898.5" y="109.5" text-anchor="middle" style="font-family:'Liberation Serif',serif;font-weight:bold;font-size:28.4px" fill="#000">8 years</text>
<text x="1091.5" y="109.5" text-anchor="middle" style="font-family:'Liberation Serif',serif;font-weight:bold;font-size:28.4px" fill="#000">Adult</text>
<use href="#child" x="129.7" y="145.8"/>
<use href="#child_air" x="129.7" y="145.8"/>
<use href="#child" x="514.7" y="145.8"/>
<g transform="translate(514.7 145.8)"><path d="M4.9,39.8 C5.3,40.8 5.3,44.1 5.3,45.5 C5.3,46.9 4.8,50.5 4.5,52.0 C4.2,53.5 3.2,57.1 2.6,58.5 C2.0,59.9 -0.0,63.1 -0.8,64.2 C-1.6,65.3 -3.6,67.2 -4.1,68.3 C-4.6,69.4 -5.6,73.4 -4.9,73.7 C-4.2,74.0 0.3,71.3 1.6,70.8 C2.9,70.3 5.2,69.7 6.3,69.7 C7.4,69.7 10.4,71.9 10.8,71.2 C11.2,70.5 10.3,65.1 10.1,63.4 C9.9,61.7 9.2,58.2 9.1,56.7 C9.0,55.2 9.3,51.2 9.5,50.2 C9.7,49.1 10.3,48.0 10.9,47.7 C11.5,47.4 13.0,47.2 14.3,47.3 C15.6,47.4 20.4,48.3 22.0,48.8 C23.6,49.3 26.2,50.1 27.6,51.5 C29.0,52.9 33.1,58.8 34.3,60.9 C35.5,63.0 37.1,67.4 37.7,69.2 C38.3,71.0 39.4,74.9 39.6,76.6 C39.8,78.3 39.4,82.3 39.2,84.0 C39.0,85.7 38.1,89.5 37.7,91.4 C37.4,93.3 36.6,98.6 36.2,100.3 C35.9,102.0 35.7,104.9 34.7,106.2 C33.7,107.5 29.2,111.1 27.3,111.8 C25.4,112.5 20.1,112.5 18.4,112.2 C16.7,111.9 14.1,109.7 12.5,109.2 C10.9,108.7 6.8,107.3 5.1,107.7 C3.4,108.1 -0.6,112.2 -2.3,112.9 C-4.0,113.6 -7.8,113.9 -9.7,113.6 C-11.6,113.3 -16.8,111.5 -19.0,110.2 C-21.2,108.9 -26.5,104.4 -28.4,102.2 C-30.3,100.0 -33.9,94.0 -35.0,91.5 C-36.1,89.0 -37.4,83.4 -37.7,80.9 C-38.0,78.4 -38.2,71.9 -37.7,70.2 C-37.2,68.5 -34.8,68.1 -33.7,66.2 C-32.6,64.3 -30.1,56.8 -28.4,54.2 C-26.7,51.6 -21.5,45.4 -19.0,43.5 C-16.5,41.6 -9.4,38.3 -7.0,37.5 C-4.6,36.7 0.2,36.6 1.6,36.9 C3.0,37.2 4.5,38.8 4.9,39.8Z" fill="#f0a020" opacity="0.14"/></g>
<use href="#child_air" x="514.7" y="145.8"/>
<use href="#child" x="901.6" y="145.8"/>
<g transform="translate(901.6 145.8)"><path d="M4.9,39.8 C5.3,40.8 5.3,44.1 5.3,45.5 C5.3,46.9 4.8,50.5 4.5,52.0 C4.2,53.5 3.2,57.1 2.6,58.5 C2.0,59.9 -0.0,63.1 -0.8,64.2 C-1.6,65.3 -3.6,67.2 -4.1,68.3 C-4.6,69.4 -5.6,73.4 -4.9,73.7 C-4.2,74.0 0.3,71.3 1.6,70.8 C2.9,70.3 5.2,69.7 6.3,69.7 C7.4,69.7 10.4,71.9 10.8,71.2 C11.2,70.5 10.3,65.1 10.1,63.4 C9.9,61.7 9.2,58.2 9.1,56.7 C9.0,55.2 9.3,51.2 9.5,50.2 C9.7,49.1 10.3,48.0 10.9,47.7 C11.5,47.4 13.0,47.2 14.3,47.3 C15.6,47.4 20.4,48.3 22.0,48.8 C23.6,49.3 26.2,50.1 27.6,51.5 C29.0,52.9 33.1,58.8 34.3,60.9 C35.5,63.0 37.1,67.4 37.7,69.2 C38.3,71.0 39.4,74.9 39.6,76.6 C39.8,78.3 39.4,82.3 39.2,84.0 C39.0,85.7 38.1,89.5 37.7,91.4 C37.4,93.3 36.6,98.6 36.2,100.3 C35.9,102.0 35.7,104.9 34.7,106.2 C33.7,107.5 29.2,111.1 27.3,111.8 C25.4,112.5 20.1,112.5 18.4,112.2 C16.7,111.9 14.1,109.7 12.5,109.2 C10.9,108.7 6.8,107.3 5.1,107.7 C3.4,108.1 -0.6,112.2 -2.3,112.9 C-4.0,113.6 -7.8,113.9 -9.7,113.6 C-11.6,113.3 -16.8,111.5 -19.0,110.2 C-21.2,108.9 -26.5,104.4 -28.4,102.2 C-30.3,100.0 -33.9,94.0 -35.0,91.5 C-36.1,89.0 -37.4,83.4 -37.7,80.9 C-38.0,78.4 -38.2,71.9 -37.7,70.2 C-37.2,68.5 -34.8,68.1 -33.7,66.2 C-32.6,64.3 -30.1,56.8 -28.4,54.2 C-26.7,51.6 -21.5,45.4 -19.0,43.5 C-16.5,41.6 -9.4,38.3 -7.0,37.5 C-4.6,36.7 0.2,36.6 1.6,36.9 C3.0,37.2 4.5,38.8 4.9,39.8Z" fill="#f0c020" opacity="0.22"/></g>
<use href="#child_air" x="901.6" y="145.8"/>
<use href="#adult" x="330.5" y="144"/>
<use href="#adult_air" x="330.5" y="144"/>
<use href="#adult" x="715.8" y="144"/>
<g transform="translate(715.8 144)"><path d="M-64.9,46.6 C-64.5,45.3 -62.1,42.9 -61.1,42.0 C-60.1,41.1 -57.6,39.5 -56.0,39.2 C-54.4,38.9 -49.6,39.3 -47.7,39.5 C-45.8,39.7 -41.8,40.1 -39.9,41.0 C-38.0,41.9 -32.9,45.9 -31.1,47.2 C-29.3,48.5 -26.0,50.9 -24.4,52.1 C-22.8,53.3 -19.0,56.1 -17.7,57.7 C-16.4,59.3 -14.2,63.6 -13.3,65.4 C-12.4,67.2 -10.3,71.6 -9.9,73.2 C-9.5,74.8 -9.0,77.3 -9.5,79.0 C-10.0,80.7 -13.3,85.9 -14.5,88.0 C-15.7,90.1 -18.7,95.4 -19.5,97.0 C-20.3,98.6 -21.9,101.9 -21.5,102.0 C-21.1,102.1 -17.8,98.9 -16.5,98.0 C-15.2,97.1 -11.9,95.2 -10.0,94.5 C-8.1,93.8 -2.7,91.6 -0.5,91.6 C1.7,91.6 7.2,93.6 9.2,94.5 C11.2,95.4 15.1,98.3 16.9,99.4 C18.7,100.5 22.8,103.0 24.6,104.2 C26.4,105.4 31.4,110.4 32.5,110.0 C33.6,109.6 33.9,102.8 34.0,101.0 C34.1,99.2 33.6,96.4 33.3,94.5 C33.0,92.6 32.3,87.3 31.4,84.9 C30.5,82.5 25.8,76.6 25.6,74.3 C25.4,72.0 28.3,67.4 29.5,65.6 C30.7,63.8 34.6,59.7 36.2,58.9 C37.8,58.1 40.6,58.8 43.0,58.7 C45.4,58.6 53.6,57.2 56.5,57.7 C59.4,58.2 65.9,60.9 68.1,62.6 C70.3,64.3 73.7,69.5 75.0,72.2 C76.3,74.9 78.3,82.1 79.0,85.7 C79.7,89.3 80.6,99.2 80.7,103.0 C80.8,106.8 80.3,114.8 79.8,118.4 C79.3,122.0 77.6,130.5 76.3,133.9 C75.0,137.3 70.9,144.7 69.0,147.3 C67.1,149.9 63.0,154.2 60.4,156.0 C57.8,157.8 50.0,161.6 46.9,162.8 C43.7,164.0 37.0,165.5 33.4,166.6 C29.8,167.7 19.4,170.9 16.1,172.0 C12.8,173.1 8.0,175.2 5.1,176.0 C2.2,176.8 -5.5,178.3 -8.7,178.5 C-11.9,178.7 -19.5,178.6 -22.6,177.9 C-25.7,177.2 -32.4,174.3 -35.2,172.8 C-38.0,171.3 -44.2,167.4 -46.5,165.3 C-48.8,163.2 -53.5,157.7 -55.3,155.2 C-57.1,152.7 -60.4,146.7 -61.6,143.9 C-62.8,141.1 -64.9,133.9 -65.4,131.3 C-65.9,128.7 -66.2,123.1 -66.1,121.2 C-66.0,119.3 -65.1,116.4 -64.7,115.0 C-64.3,113.6 -63.0,110.9 -63.0,109.0 C-63.0,107.1 -64.0,101.6 -64.5,99.0 C-65.0,96.4 -67.1,89.1 -67.7,86.6 C-68.3,84.1 -69.6,79.9 -69.9,77.7 C-70.2,75.5 -70.6,69.3 -70.5,67.7 C-70.4,66.1 -69.4,64.6 -68.8,64.3 C-68.2,64.0 -66.7,64.7 -65.5,65.4 C-64.3,66.1 -60.3,69.1 -58.8,70.5 C-57.3,71.9 -52.7,77.6 -52.5,77.0 C-52.3,76.4 -56.0,67.0 -57.0,65.0 C-58.0,63.0 -60.2,61.3 -61.1,59.9 C-62.0,58.5 -64.0,54.8 -64.4,53.2 C-64.8,51.6 -65.3,47.9 -64.9,46.6Z" fill="#a0dc40" opacity="0.2"/><path d="M-37.2,80.0 C-36.7,79.3 -31.9,79.1 -30.5,78.7 C-29.1,78.3 -26.5,77.0 -25.2,76.7 C-23.9,76.4 -20.4,75.9 -19.2,76.0 C-18.0,76.1 -15.7,77.0 -14.5,77.3 C-13.3,77.7 -9.2,78.1 -8.5,79.0 C-7.8,79.9 -7.8,84.0 -8.5,85.0 C-9.2,86.0 -13.1,87.7 -14.5,88.0 C-15.9,88.3 -19.7,86.4 -20.5,87.3 C-21.3,88.2 -21.8,94.2 -21.2,95.3 C-20.6,96.4 -15.5,96.1 -15.2,96.7 C-14.9,97.3 -17.6,99.6 -18.5,100.7 C-19.4,101.8 -21.7,105.7 -22.5,106.0 C-23.3,106.3 -24.3,104.3 -25.2,103.3 C-26.1,102.3 -29.6,98.7 -30.5,97.3 C-31.4,95.9 -32.7,92.8 -33.2,91.3 C-33.7,89.8 -34.0,86.0 -34.5,84.7 C-35.0,83.4 -37.7,80.7 -37.2,80.0Z" fill="#fff"/></g>
<use href="#adult_air" x="715.8" y="144"/>
<use href="#adult" x="1102.9" y="144"/>
<g transform="translate(1102.9 144)"><path d="M-64.9,46.6 C-64.5,45.3 -62.1,42.9 -61.1,42.0 C-60.1,41.1 -57.6,39.5 -56.0,39.2 C-54.4,38.9 -49.6,39.3 -47.7,39.5 C-45.8,39.7 -41.8,40.1 -39.9,41.0 C-38.0,41.9 -32.9,45.9 -31.1,47.2 C-29.3,48.5 -26.0,50.9 -24.4,52.1 C-22.8,53.3 -19.0,56.1 -17.7,57.7 C-16.4,59.3 -14.2,63.6 -13.3,65.4 C-12.4,67.2 -10.3,71.6 -9.9,73.2 C-9.5,74.8 -9.0,77.3 -9.5,79.0 C-10.0,80.7 -13.3,85.9 -14.5,88.0 C-15.7,90.1 -18.7,95.4 -19.5,97.0 C-20.3,98.6 -21.9,101.9 -21.5,102.0 C-21.1,102.1 -17.8,98.9 -16.5,98.0 C-15.2,97.1 -11.9,95.2 -10.0,94.5 C-8.1,93.8 -2.7,91.6 -0.5,91.6 C1.7,91.6 7.2,93.6 9.2,94.5 C11.2,95.4 15.1,98.3 16.9,99.4 C18.7,100.5 22.8,103.0 24.6,104.2 C26.4,105.4 31.4,110.4 32.5,110.0 C33.6,109.6 33.9,102.8 34.0,101.0 C34.1,99.2 33.6,96.4 33.3,94.5 C33.0,92.6 32.3,87.3 31.4,84.9 C30.5,82.5 25.8,76.6 25.6,74.3 C25.4,72.0 28.3,67.4 29.5,65.6 C30.7,63.8 34.6,59.7 36.2,58.9 C37.8,58.1 40.6,58.8 43.0,58.7 C45.4,58.6 53.6,57.2 56.5,57.7 C59.4,58.2 65.9,60.9 68.1,62.6 C70.3,64.3 73.7,69.5 75.0,72.2 C76.3,74.9 78.3,82.1 79.0,85.7 C79.7,89.3 80.6,99.2 80.7,103.0 C80.8,106.8 80.3,114.8 79.8,118.4 C79.3,122.0 77.6,130.5 76.3,133.9 C75.0,137.3 70.9,144.7 69.0,147.3 C67.1,149.9 63.0,154.2 60.4,156.0 C57.8,157.8 50.0,161.6 46.9,162.8 C43.7,164.0 37.0,165.5 33.4,166.6 C29.8,167.7 19.4,170.9 16.1,172.0 C12.8,173.1 8.0,175.2 5.1,176.0 C2.2,176.8 -5.5,178.3 -8.7,178.5 C-11.9,178.7 -19.5,178.6 -22.6,177.9 C-25.7,177.2 -32.4,174.3 -35.2,172.8 C-38.0,171.3 -44.2,167.4 -46.5,165.3 C-48.8,163.2 -53.5,157.7 -55.3,155.2 C-57.1,152.7 -60.4,146.7 -61.6,143.9 C-62.8,141.1 -64.9,133.9 -65.4,131.3 C-65.9,128.7 -66.2,123.1 -66.1,121.2 C-66.0,119.3 -65.1,116.4 -64.7,115.0 C-64.3,113.6 -63.0,110.9 -63.0,109.0 C-63.0,107.1 -64.0,101.6 -64.5,99.0 C-65.0,96.4 -67.1,89.1 -67.7,86.6 C-68.3,84.1 -69.6,79.9 -69.9,77.7 C-70.2,75.5 -70.6,69.3 -70.5,67.7 C-70.4,66.1 -69.4,64.6 -68.8,64.3 C-68.2,64.0 -66.7,64.7 -65.5,65.4 C-64.3,66.1 -60.3,69.1 -58.8,70.5 C-57.3,71.9 -52.7,77.6 -52.5,77.0 C-52.3,76.4 -56.0,67.0 -57.0,65.0 C-58.0,63.0 -60.2,61.3 -61.1,59.9 C-62.0,58.5 -64.0,54.8 -64.4,53.2 C-64.8,51.6 -65.3,47.9 -64.9,46.6Z" fill="#f0d820" opacity="0.08"/><path d="M-37.2,80.0 C-36.7,79.3 -31.9,79.1 -30.5,78.7 C-29.1,78.3 -26.5,77.0 -25.2,76.7 C-23.9,76.4 -20.4,75.9 -19.2,76.0 C-18.0,76.1 -15.7,77.0 -14.5,77.3 C-13.3,77.7 -9.2,78.1 -8.5,79.0 C-7.8,79.9 -7.8,84.0 -8.5,85.0 C-9.2,86.0 -13.1,87.7 -14.5,88.0 C-15.9,88.3 -19.7,86.4 -20.5,87.3 C-21.3,88.2 -21.8,94.2 -21.2,95.3 C-20.6,96.4 -15.5,96.1 -15.2,96.7 C-14.9,97.3 -17.6,99.6 -18.5,100.7 C-19.4,101.8 -21.7,105.7 -22.5,106.0 C-23.3,106.3 -24.3,104.3 -25.2,103.3 C-26.1,102.3 -29.6,98.7 -30.5,97.3 C-31.4,95.9 -32.7,92.8 -33.2,91.3 C-33.7,89.8 -34.0,86.0 -34.5,84.7 C-35.0,83.4 -37.7,80.7 -37.2,80.0Z" fill="#fff"/></g>
<use href="#adult_air" x="1102.9" y="144"/>
<use href="#child" x="129.7" y="415.8"/>
<use href="#child_air" x="129.7" y="415.8"/>
<use href="#child" x="514.7" y="415.8"/>
<g transform="translate(514.7 415.8)"><path d="M4.9,39.8 C5.3,40.8 5.3,44.1 5.3,45.5 C5.3,46.9 4.8,50.5 4.5,52.0 C4.2,53.5 3.2,57.1 2.6,58.5 C2.0,59.9 -0.0,63.1 -0.8,64.2 C-1.6,65.3 -3.6,67.2 -4.1,68.3 C-4.6,69.4 -5.6,73.4 -4.9,73.7 C-4.2,74.0 0.3,71.3 1.6,70.8 C2.9,70.3 5.2,69.7 6.3,69.7 C7.4,69.7 10.4,71.9 10.8,71.2 C11.2,70.5 10.3,65.1 10.1,63.4 C9.9,61.7 9.2,58.2 9.1,56.7 C9.0,55.2 9.3,51.2 9.5,50.2 C9.7,49.1 10.3,48.0 10.9,47.7 C11.5,47.4 13.0,47.2 14.3,47.3 C15.6,47.4 20.4,48.3 22.0,48.8 C23.6,49.3 26.2,50.1 27.6,51.5 C29.0,52.9 33.1,58.8 34.3,60.9 C35.5,63.0 37.1,67.4 37.7,69.2 C38.3,71.0 39.4,74.9 39.6,76.6 C39.8,78.3 39.4,82.3 39.2,84.0 C39.0,85.7 38.1,89.5 37.7,91.4 C37.4,93.3 36.6,98.6 36.2,100.3 C35.9,102.0 35.7,104.9 34.7,106.2 C33.7,107.5 29.2,111.1 27.3,111.8 C25.4,112.5 20.1,112.5 18.4,112.2 C16.7,111.9 14.1,109.7 12.5,109.2 C10.9,108.7 6.8,107.3 5.1,107.7 C3.4,108.1 -0.6,112.2 -2.3,112.9 C-4.0,113.6 -7.8,113.9 -9.7,113.6 C-11.6,113.3 -16.8,111.5 -19.0,110.2 C-21.2,108.9 -26.5,104.4 -28.4,102.2 C-30.3,100.0 -33.9,94.0 -35.0,91.5 C-36.1,89.0 -37.4,83.4 -37.7,80.9 C-38.0,78.4 -38.2,71.9 -37.7,70.2 C-37.2,68.5 -34.8,68.1 -33.7,66.2 C-32.6,64.3 -30.1,56.8 -28.4,54.2 C-26.7,51.6 -21.5,45.4 -19.0,43.5 C-16.5,41.6 -9.4,38.3 -7.0,37.5 C-4.6,36.7 0.2,36.6 1.6,36.9 C3.0,37.2 4.5,38.8 4.9,39.8Z" fill="#f0a020" opacity="0.14"/></g>
<use href="#child_air" x="514.7" y="415.8"/>
<use href="#child" x="901.6" y="415.8"/>
<g transform="translate(901.6 415.8)"><path d="M4.9,39.8 C5.3,40.8 5.3,44.1 5.3,45.5 C5.3,46.9 4.8,50.5 4.5,52.0 C4.2,53.5 3.2,57.1 2.6,58.5 C2.0,59.9 -0.0,63.1 -0.8,64.2 C-1.6,65.3 -3.6,67.2 -4.1,68.3 C-4.6,69.4 -5.6,73.4 -4.9,73.7 C-4.2,74.0 0.3,71.3 1.6,70.8 C2.9,70.3 5.2,69.7 6.3,69.7 C7.4,69.7 10.4,71.9 10.8,71.2 C11.2,70.5 10.3,65.1 10.1,63.4 C9.9,61.7 9.2,58.2 9.1,56.7 C9.0,55.2 9.3,51.2 9.5,50.2 C9.7,49.1 10.3,48.0 10.9,47.7 C11.5,47.4 13.0,47.2 14.3,47.3 C15.6,47.4 20.4,48.3 22.0,48.8 C23.6,49.3 26.2,50.1 27.6,51.5 C29.0,52.9 33.1,58.8 34.3,60.9 C35.5,63.0 37.1,67.4 37.7,69.2 C38.3,71.0 39.4,74.9 39.6,76.6 C39.8,78.3 39.4,82.3 39.2,84.0 C39.0,85.7 38.1,89.5 37.7,91.4 C37.4,93.3 36.6,98.6 36.2,100.3 C35.9,102.0 35.7,104.9 34.7,106.2 C33.7,107.5 29.2,111.1 27.3,111.8 C25.4,112.5 20.1,112.5 18.4,112.2 C16.7,111.9 14.1,109.7 12.5,109.2 C10.9,108.7 6.8,107.3 5.1,107.7 C3.4,108.1 -0.6,112.2 -2.3,112.9 C-4.0,113.6 -7.8,113.9 -9.7,113.6 C-11.6,113.3 -16.8,111.5 -19.0,110.2 C-21.2,108.9 -26.5,104.4 -28.4,102.2 C-30.3,100.0 -33.9,94.0 -35.0,91.5 C-36.1,89.0 -37.4,83.4 -37.7,80.9 C-38.0,78.4 -38.2,71.9 -37.7,70.2 C-37.2,68.5 -34.8,68.1 -33.7,66.2 C-32.6,64.3 -30.1,56.8 -28.4,54.2 C-26.7,51.6 -21.5,45.4 -19.0,43.5 C-16.5,41.6 -9.4,38.3 -7.0,37.5 C-4.6,36.7 0.2,36.6 1.6,36.9 C3.0,37.2 4.5,38.8 4.9,39.8Z" fill="#f0c020" opacity="0.22"/></g>
<use href="#child_air" x="901.6" y="415.8"/>
<use href="#adult" x="330.5" y="414"/>
<use href="#adult_air" x="330.5" y="414"/>
<use href="#adult" x="715.8" y="414"/>
<g transform="translate(715.8 414)"><path d="M-64.9,46.6 C-64.5,45.3 -62.1,42.9 -61.1,42.0 C-60.1,41.1 -57.6,39.5 -56.0,39.2 C-54.4,38.9 -49.6,39.3 -47.7,39.5 C-45.8,39.7 -41.8,40.1 -39.9,41.0 C-38.0,41.9 -32.9,45.9 -31.1,47.2 C-29.3,48.5 -26.0,50.9 -24.4,52.1 C-22.8,53.3 -19.0,56.1 -17.7,57.7 C-16.4,59.3 -14.2,63.6 -13.3,65.4 C-12.4,67.2 -10.3,71.6 -9.9,73.2 C-9.5,74.8 -9.0,77.3 -9.5,79.0 C-10.0,80.7 -13.3,85.9 -14.5,88.0 C-15.7,90.1 -18.7,95.4 -19.5,97.0 C-20.3,98.6 -21.9,101.9 -21.5,102.0 C-21.1,102.1 -17.8,98.9 -16.5,98.0 C-15.2,97.1 -11.9,95.2 -10.0,94.5 C-8.1,93.8 -2.7,91.6 -0.5,91.6 C1.7,91.6 7.2,93.6 9.2,94.5 C11.2,95.4 15.1,98.3 16.9,99.4 C18.7,100.5 22.8,103.0 24.6,104.2 C26.4,105.4 31.4,110.4 32.5,110.0 C33.6,109.6 33.9,102.8 34.0,101.0 C34.1,99.2 33.6,96.4 33.3,94.5 C33.0,92.6 32.3,87.3 31.4,84.9 C30.5,82.5 25.8,76.6 25.6,74.3 C25.4,72.0 28.3,67.4 29.5,65.6 C30.7,63.8 34.6,59.7 36.2,58.9 C37.8,58.1 40.6,58.8 43.0,58.7 C45.4,58.6 53.6,57.2 56.5,57.7 C59.4,58.2 65.9,60.9 68.1,62.6 C70.3,64.3 73.7,69.5 75.0,72.2 C76.3,74.9 78.3,82.1 79.0,85.7 C79.7,89.3 80.6,99.2 80.7,103.0 C80.8,106.8 80.3,114.8 79.8,118.4 C79.3,122.0 77.6,130.5 76.3,133.9 C75.0,137.3 70.9,144.7 69.0,147.3 C67.1,149.9 63.0,154.2 60.4,156.0 C57.8,157.8 50.0,161.6 46.9,162.8 C43.7,164.0 37.0,165.5 33.4,166.6 C29.8,167.7 19.4,170.9 16.1,172.0 C12.8,173.1 8.0,175.2 5.1,176.0 C2.2,176.8 -5.5,178.3 -8.7,178.5 C-11.9,178.7 -19.5,178.6 -22.6,177.9 C-25.7,177.2 -32.4,174.3 -35.2,172.8 C-38.0,171.3 -44.2,167.4 -46.5,165.3 C-48.8,163.2 -53.5,157.7 -55.3,155.2 C-57.1,152.7 -60.4,146.7 -61.6,143.9 C-62.8,141.1 -64.9,133.9 -65.4,131.3 C-65.9,128.7 -66.2,123.1 -66.1,121.2 C-66.0,119.3 -65.1,116.4 -64.7,115.0 C-64.3,113.6 -63.0,110.9 -63.0,109.0 C-63.0,107.1 -64.0,101.6 -64.5,99.0 C-65.0,96.4 -67.1,89.1 -67.7,86.6 C-68.3,84.1 -69.6,79.9 -69.9,77.7 C-70.2,75.5 -70.6,69.3 -70.5,67.7 C-70.4,66.1 -69.4,64.6 -68.8,64.3 C-68.2,64.0 -66.7,64.7 -65.5,65.4 C-64.3,66.1 -60.3,69.1 -58.8,70.5 C-57.3,71.9 -52.7,77.6 -52.5,77.0 C-52.3,76.4 -56.0,67.0 -57.0,65.0 C-58.0,63.0 -60.2,61.3 -61.1,59.9 C-62.0,58.5 -64.0,54.8 -64.4,53.2 C-64.8,51.6 -65.3,47.9 -64.9,46.6Z" fill="#a0dc40" opacity="0.2"/><path d="M-37.2,80.0 C-36.7,79.3 -31.9,79.1 -30.5,78.7 C-29.1,78.3 -26.5,77.0 -25.2,76.7 C-23.9,76.4 -20.4,75.9 -19.2,76.0 C-18.0,76.1 -15.7,77.0 -14.5,77.3 C-13.3,77.7 -9.2,78.1 -8.5,79.0 C-7.8,79.9 -7.8,84.0 -8.5,85.0 C-9.2,86.0 -13.1,87.7 -14.5,88.0 C-15.9,88.3 -19.7,86.4 -20.5,87.3 C-21.3,88.2 -21.8,94.2 -21.2,95.3 C-20.6,96.4 -15.5,96.1 -15.2,96.7 C-14.9,97.3 -17.6,99.6 -18.5,100.7 C-19.4,101.8 -21.7,105.7 -22.5,106.0 C-23.3,106.3 -24.3,104.3 -25.2,103.3 C-26.1,102.3 -29.6,98.7 -30.5,97.3 C-31.4,95.9 -32.7,92.8 -33.2,91.3 C-33.7,89.8 -34.0,86.0 -34.5,84.7 C-35.0,83.4 -37.7,80.7 -37.2,80.0Z" fill="#fff"/></g>
<use href="#adult_air" x="715.8" y="414"/>
<use href="#adult" x="1102.9" y="414"/>
<g transform="translate(1102.9 414)"><path d="M-64.9,46.6 C-64.5,45.3 -62.1,42.9 -61.1,42.0 C-60.1,41.1 -57.6,39.5 -56.0,39.2 C-54.4,38.9 -49.6,39.3 -47.7,39.5 C-45.8,39.7 -41.8,40.1 -39.9,41.0 C-38.0,41.9 -32.9,45.9 -31.1,47.2 C-29.3,48.5 -26.0,50.9 -24.4,52.1 C-22.8,53.3 -19.0,56.1 -17.7,57.7 C-16.4,59.3 -14.2,63.6 -13.3,65.4 C-12.4,67.2 -10.3,71.6 -9.9,73.2 C-9.5,74.8 -9.0,77.3 -9.5,79.0 C-10.0,80.7 -13.3,85.9 -14.5,88.0 C-15.7,90.1 -18.7,95.4 -19.5,97.0 C-20.3,98.6 -21.9,101.9 -21.5,102.0 C-21.1,102.1 -17.8,98.9 -16.5,98.0 C-15.2,97.1 -11.9,95.2 -10.0,94.5 C-8.1,93.8 -2.7,91.6 -0.5,91.6 C1.7,91.6 7.2,93.6 9.2,94.5 C11.2,95.4 15.1,98.3 16.9,99.4 C18.7,100.5 22.8,103.0 24.6,104.2 C26.4,105.4 31.4,110.4 32.5,110.0 C33.6,109.6 33.9,102.8 34.0,101.0 C34.1,99.2 33.6,96.4 33.3,94.5 C33.0,92.6 32.3,87.3 31.4,84.9 C30.5,82.5 25.8,76.6 25.6,74.3 C25.4,72.0 28.3,67.4 29.5,65.6 C30.7,63.8 34.6,59.7 36.2,58.9 C37.8,58.1 40.6,58.8 43.0,58.7 C45.4,58.6 53.6,57.2 56.5,57.7 C59.4,58.2 65.9,60.9 68.1,62.6 C70.3,64.3 73.7,69.5 75.0,72.2 C76.3,74.9 78.3,82.1 79.0,85.7 C79.7,89.3 80.6,99.2 80.7,103.0 C80.8,106.8 80.3,114.8 79.8,118.4 C79.3,122.0 77.6,130.5 76.3,133.9 C75.0,137.3 70.9,144.7 69.0,147.3 C67.1,149.9 63.0,154.2 60.4,156.0 C57.8,157.8 50.0,161.6 46.9,162.8 C43.7,164.0 37.0,165.5 33.4,166.6 C29.8,167.7 19.4,170.9 16.1,172.0 C12.8,173.1 8.0,175.2 5.1,176.0 C2.2,176.8 -5.5,178.3 -8.7,178.5 C-11.9,178.7 -19.5,178.6 -22.6,177.9 C-25.7,177.2 -32.4,174.3 -35.2,172.8 C-38.0,171.3 -44.2,167.4 -46.5,165.3 C-48.8,163.2 -53.5,157.7 -55.3,155.2 C-57.1,152.7 -60.4,146.7 -61.6,143.9 C-62.8,141.1 -64.9,133.9 -65.4,131.3 C-65.9,128.7 -66.2,123.1 -66.1,121.2 C-66.0,119.3 -65.1,116.4 -64.7,115.0 C-64.3,113.6 -63.0,110.9 -63.0,109.0 C-63.0,107.1 -64.0,101.6 -64.5,99.0 C-65.0,96.4 -67.1,89.1 -67.7,86.6 C-68.3,84.1 -69.6,79.9 -69.9,77.7 C-70.2,75.5 -70.6,69.3 -70.5,67.7 C-70.4,66.1 -69.4,64.6 -68.8,64.3 C-68.2,64.0 -66.7,64.7 -65.5,65.4 C-64.3,66.1 -60.3,69.1 -58.8,70.5 C-57.3,71.9 -52.7,77.6 -52.5,77.0 C-52.3,76.4 -56.0,67.0 -57.0,65.0 C-58.0,63.0 -60.2,61.3 -61.1,59.9 C-62.0,58.5 -64.0,54.8 -64.4,53.2 C-64.8,51.6 -65.3,47.9 -64.9,46.6Z" fill="#f0d820" opacity="0.08"/><path d="M-37.2,80.0 C-36.7,79.3 -31.9,79.1 -30.5,78.7 C-29.1,78.3 -26.5,77.0 -25.2,76.7 C-23.9,76.4 -20.4,75.9 -19.2,76.0 C-18.0,76.1 -15.7,77.0 -14.5,77.3 C-13.3,77.7 -9.2,78.1 -8.5,79.0 C-7.8,79.9 -7.8,84.0 -8.5,85.0 C-9.2,86.0 -13.1,87.7 -14.5,88.0 C-15.9,88.3 -19.7,86.4 -20.5,87.3 C-21.3,88.2 -21.8,94.2 -21.2,95.3 C-20.6,96.4 -15.5,96.1 -15.2,96.7 C-14.9,97.3 -17.6,99.6 -18.5,100.7 C-19.4,101.8 -21.7,105.7 -22.5,106.0 C-23.3,106.3 -24.3,104.3 -25.2,103.3 C-26.1,102.3 -29.6,98.7 -30.5,97.3 C-31.4,95.9 -32.7,92.8 -33.2,91.3 C-33.7,89.8 -34.0,86.0 -34.5,84.7 C-35.0,83.4 -37.7,80.7 -37.2,80.0Z" fill="#fff"/></g>
<use href="#adult_air" x="1102.9" y="414"/>
<use href="#legbar" x="39.5" y="341"/>
<text x="47.5" y="345.2" style="font-family:'Liberation Sans',sans-serif;font-size:17.9px" fill="#1c1c8a">0.0 μg</text>
<text x="47.0" y="386.6" style="font-family:'Liberation Sans',sans-serif;font-size:17.9px" fill="#a21a22">6.097E-5 μg</text>
<use href="#legbar" x="240" y="341"/>
<text x="248" y="345.2" style="font-family:'Liberation Sans',sans-serif;font-size:17.9px" fill="#1c1c8a">0.0 μg</text>
<text x="247.5" y="386.6" style="font-family:'Liberation Sans',sans-serif;font-size:17.9px" fill="#a21a22">1.735E-4 μg</text>
<use href="#legbar" x="425" y="341"/>
<text x="433" y="345.2" style="font-family:'Liberation Sans',sans-serif;font-size:17.9px" fill="#1c1c8a">0.0 μg</text>
<text x="432.5" y="386.6" style="font-family:'Liberation Sans',sans-serif;font-size:17.9px" fill="#a21a22">7.127E-5 μg</text>
<use href="#legbar" x="625" y="341"/>
<text x="633" y="345.2" style="font-family:'Liberation Sans',sans-serif;font-size:17.9px" fill="#1c1c8a">0.0 μg</text>
<text x="632.5" y="386.6" style="font-family:'Liberation Sans',sans-serif;font-size:17.9px" fill="#a21a22">2.175E-4 μg</text>
<use href="#legbar" x="812" y="341"/>
<text x="820" y="345.2" style="font-family:'Liberation Sans',sans-serif;font-size:17.9px" fill="#1c1c8a">0.0 μg</text>
<text x="819.5" y="386.6" style="font-family:'Liberation Sans',sans-serif;font-size:17.9px" fill="#a21a22">9.953E-5 μg</text>
<use href="#legbar" x="1012.5" y="341"/>
<text x="1020.5" y="345.2" style="font-family:'Liberation Sans',sans-serif;font-size:17.9px" fill="#1c1c8a">0.0 μg</text>
<text x="1020.0" y="386.6" style="font-family:'Liberation Sans',sans-serif;font-size:17.9px" fill="#a21a22">3.125E-4 μg</text>
<use href="#legbar" x="39.5" y="610"/>
<text x="47.5" y="614.2" style="font-family:'Liberation Sans',sans-serif;font-size:17.9px" fill="#1c1c8a">0.0 μg/min</text>
<text x="47.0" y="655.6" style="font-family:'Liberation Sans',sans-serif;font-size:17.9px" fill="#a21a22">1.036E-3 μg/min</text>
<use href="#legbar" x="240" y="610"/>
<text x="248" y="614.2" style="font-family:'Liberation Sans',sans-serif;font-size:17.9px" fill="#1c1c8a">0.0 μg/min</text>
<text x="247.5" y="655.6" style="font-family:'Liberation Sans',sans-serif;font-size:17.9px" fill="#a21a22">1.662E-3 μg/min</text>
<use href="#legbar" x="425" y="610"/>
<text x="433" y="614.2" style="font-family:'Liberation Sans',sans-serif;font-size:17.9px" fill="#1c1c8a">0.0 μg/min</text>
<text x="432.5" y="655.6" style="font-family:'Liberation Sans',sans-serif;font-size:17.9px" fill="#a21a22">1.212E-3 μg/min</text>
<use href="#legbar" x="625" y="610"/>
<text x="633" y="614.2" style="font-family:'Liberation Sans',sans-serif;font-size:17.9px" fill="#1c1c8a">0.0 μg/min</text>
<text x="632.5" y="655.6" style="font-family:'Liberation Sans',sans-serif;font-size:17.9px" fill="#a21a22">2.610E-3 μg/min</text>
<use href="#legbar" x="812" y="610"/>
<text x="820" y="614.2" style="font-family:'Liberation Sans',sans-serif;font-size:17.9px" fill="#1c1c8a">0.0 μg/min</text>
<text x="819.5" y="655.6" style="font-family:'Liberation Sans',sans-serif;font-size:17.9px" fill="#a21a22">1.692E-3 μg/min</text>
<use href="#legbar" x="1012.5" y="610"/>
<text x="1020.5" y="614.2" style="font-family:'Liberation Sans',sans-serif;font-size:17.9px" fill="#1c1c8a">0.0 μg/min</text>
<text x="1020.0" y="655.6" style="font-family:'Liberation Sans',sans-serif;font-size:17.9px" fill="#a21a22">3.750E-3 μg/min</text>
</svg>
</body></html>
